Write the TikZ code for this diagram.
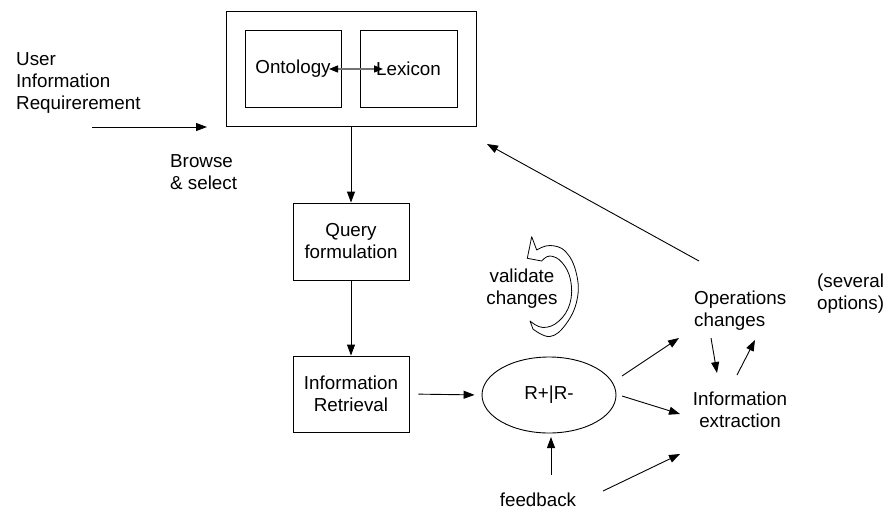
\documentclass[tikz,border=0pt]{standalone}
\usepackage{fontspec}
\setmainfont{Liberation Sans}
\usetikzlibrary{arrows.meta,shapes.geometric}
\begin{document}
\begin{tikzpicture}[x=1pt,y=-1pt,
  every node/.style={font=\fontsize{18.8}{22}\selectfont},
  box/.style={draw, line width=0.9pt, rectangle, inner sep=0pt, align=center},
  lbl/.style={inner sep=0pt, align=center},
  arr/.style={line width=0.9pt, -{Triangle[length=11pt,width=8pt]}},
  ]
\useasboundingbox[fill=white] (0,0) rectangle (890,517);

% knowledge base: ontology and lexicon
\node[box, minimum width=250pt, minimum height=115pt] (outer) at (351,68.5) {};
\node[box, minimum width=96pt, minimum height=77pt] (onto) at (293,68.5) {Ontology};
\node[box, minimum width=97pt, minimum height=77pt] (lex) at (408.5,68.5) {Lexicon};

% main processing chain
\node[box, minimum width=116pt, minimum height=77pt] (query) at (351,241.5) {Query\\formulation};
\node[box, minimum width=116pt, minimum height=76pt] (ir) at (351,394) {Information\\Retrieval};
\node[draw, ellipse, line width=0.9pt, minimum width=134pt, minimum height=76pt, inner sep=0pt] (rr) at (549,395) {R+|R-};

% free labels
\node[lbl, align=left, anchor=west] (user) at (16,83) {User\\Information\\Requirerement};
\node[lbl, align=left, anchor=west] (browse) at (170,172) {Browse\\\& select};
\node[lbl] (validate) at (522,289) {validate\\changes};
\node[lbl, align=left, anchor=west] (ops) at (694,311) {Operations\\changes};
\node[lbl] (extr) at (740,409.5) {Information\\extraction};
\node[lbl, align=left, anchor=west] (several) at (817,294) {(several\\options)};
\node[lbl] (fb) at (538,500) {feedback};

% connector end points
\coordinate (userEnd) at (92,127);
\coordinate (kbIn) at (207,127);
\coordinate (ontoR) at (329,69);
\coordinate (lexL) at (383,69);
\coordinate (rrUp) at (622,376);
\coordinate (opsIn) at (679,338);
\coordinate (rrRight) at (622,396);
\coordinate (extrIn) at (680,414);
\coordinate (fbTop) at (551,475);
\coordinate (rrBottom) at (551,437);
\coordinate (fbRight) at (603,491);
\coordinate (extrLow) at (680,454);
\coordinate (opsDownA) at (711,338);
\coordinate (extrTopA) at (717,373);
\coordinate (extrTopB) at (737,375);
\coordinate (opsDownB) at (755,340);
\coordinate (opsCorner) at (699,261);
\coordinate (kbCorner) at (487,144);

% connectors
\draw[arr] (userEnd) -- (kbIn);
\draw[black!55, line width=1.3pt,
  {Triangle[length=9pt,width=7pt,color=black]}-{Triangle[length=9pt,width=7pt,color=black]}]
  (ontoR) -- (lexL);
\draw[arr] (outer.south) -- (query.north);
\draw[arr] (query.south) -- (ir.north);
\draw[arr, shorten <=9pt, shorten >=7pt] (ir.east) -- (rr.west);
\draw[arr] (rrUp) -- (opsIn);
\draw[arr] (rrRight) -- (extrIn);
\draw[arr] (fbTop) -- (rrBottom);
\draw[arr] (fbRight) -- (extrLow);
\draw[arr] (opsDownA) -- (extrTopA);
\draw[arr] (extrTopB) -- (opsDownB);
\draw[arr] (opsCorner) -- (kbCorner);

% hollow circular arrow around "validate changes"
\draw[line width=0.8pt, line join=round, fill=white]
  (531.7,236.7) -- (536.7,250)
  -- plot[smooth, tension=0.7] coordinates {(536.7,250) (550,245.5) (566,252) (576.5,274) (577,300) (566,324) (550,336.5) (533,329)}
  -- plot[smooth, tension=0.7] coordinates {(530,321) (543,327.5) (559,321) (570,303) (570.5,280) (562,262.5) (550,256) (541.7,261)}
  -- (527.3,258.3) -- cycle;
\end{tikzpicture}
\end{document}
